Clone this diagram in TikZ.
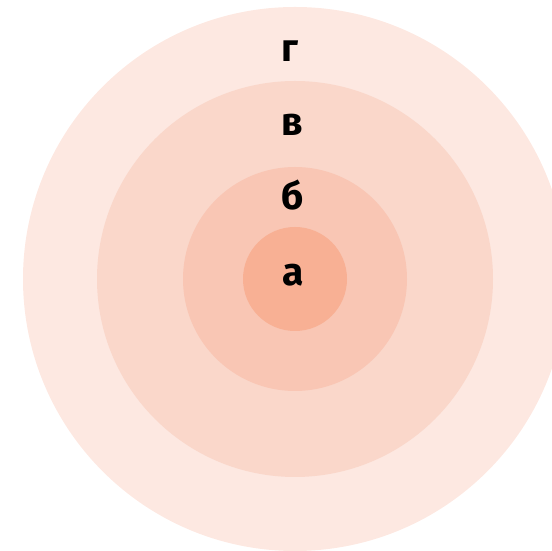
\documentclass[tikz,border=0pt]{standalone}
\usepackage{fontspec}
\setmainfont{Fira Sans}
\usepackage{tikz}
\definecolor{ringd}{RGB}{253,232,225}
\definecolor{ringc}{RGB}{250,215,202}
\definecolor{ringb}{RGB}{249,198,180}
\definecolor{ringa}{RGB}{248,176,148}
\tikzset{
  ring/.style={draw=none},
  lvl/.style={anchor=base, inner sep=0pt, font=\fontsize{39}{42}\selectfont\bfseries},
}
\begin{document}
\begin{tikzpicture}[x=1pt,y=1pt]
  \useasboundingbox (0,0) rectangle (552,551);
  \begin{scope}
    \clip (0,0) rectangle (552,551);
    \fill[ring, ringd] (295,272) circle (272);
    \fill[ring, ringc] (295,272) circle (198);
    \fill[ring, ringb] (295,272) circle (112);
    \fill[ring, ringa] (295,272) circle (52);
  \end{scope}
  \node[lvl] (g) at (290,489) {г};
  \node[lvl] (v) at (292,415) {в};
  \node[lvl] (b) at (293,341) {б};
  \node[lvl] (a) at (293,265) {а};
\end{tikzpicture}
\end{document}
